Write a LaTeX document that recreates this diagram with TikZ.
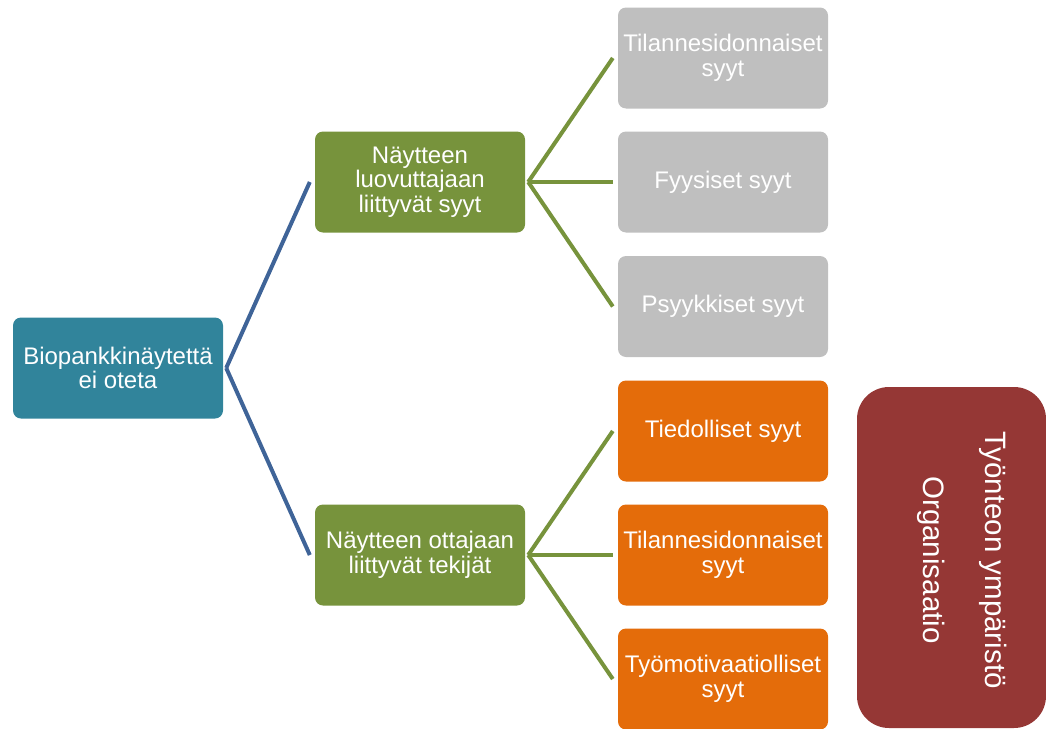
\documentclass[tikz,border=0pt]{standalone}
\usepackage{fontspec}
\setmainfont{Liberation Sans}
\definecolor{rootteal}{HTML}{31849B}
\definecolor{leafgreen}{HTML}{77933C}
\definecolor{softgray}{HTML}{BFBFBF}
\definecolor{warmorange}{HTML}{E46C0A}
\definecolor{deepred}{HTML}{953735}
\definecolor{linkblue}{HTML}{3F6498}
\begin{document}
\begin{tikzpicture}[x=1pt,y=1pt,
  card/.style={rectangle, rounded corners=8pt, draw=none, text=white,
    minimum width=210pt, minimum height=101pt, inner sep=2pt,
    align=center, font=\fontsize{24}{24.5}\selectfont},
  rootcard/.style={card, fill=rootteal},
  causecard/.style={card, fill=leafgreen},
  graycard/.style={card, fill=softgray},
  orangecard/.style={card, fill=warmorange},
  bluelink/.style={draw=linkblue, line width=4pt},
  greenlink/.style={draw=leafgreen, line width=4pt}]
\useasboundingbox (0,0) rectangle (1046,-728);

% root and first level
\node[rootcard] (root) at (118,-368) {Biopankkinäytettä\\ei oteta};
\node[causecard] (donor) at (420,-182) {Näytteen\\luovuttajaan\\liittyvät syyt};
\node[causecard] (taker) at (420,-555) {Näytteen ottajaan\\liittyvät tekijät};

% donor-related causes
\node[graycard] (g1) at (723,-58) {Tilannesidonnaiset\\syyt};
\node[graycard] (g2) at (723,-182) {Fyysiset syyt};
\node[graycard] (g3) at (723,-306.5) {Psyykkiset syyt};

% sampler-related factors
\node[orangecard] (o1) at (723,-431) {Tiedolliset syyt};
\node[orangecard] (o2) at (723,-555) {Tilannesidonnaiset\\syyt};
\node[orangecard] (o3) at (723,-679) {Työmotivaatiolliset\\syyt};

% work environment box and its rotated caption
\node[rectangle, rounded corners=32pt, fill=deepred,
  minimum width=189pt, minimum height=341pt] (env) at (951.5,-557.5) {};
\node[rotate=-90, text=white, align=center, inner sep=0pt,
  font=\fontsize{29.5}{62}\selectfont] (envtext) at (962,-560)
  {Työnteon ympäristö\\Organisaatio};

% connectors
\draw[bluelink] ([xshift=3pt]root.east) -- ([xshift=-5pt]donor.west);
\draw[bluelink] ([xshift=3pt]root.east) -- ([xshift=-5pt]taker.west);
\foreach \t in {g1,g2,g3}
  \draw[greenlink] ([xshift=3pt]donor.east) -- ([xshift=-5pt]\t.west);
\foreach \t in {o1,o2,o3}
  \draw[greenlink] ([xshift=3pt]taker.east) -- ([xshift=-5pt]\t.west);
\end{tikzpicture}
\end{document}
